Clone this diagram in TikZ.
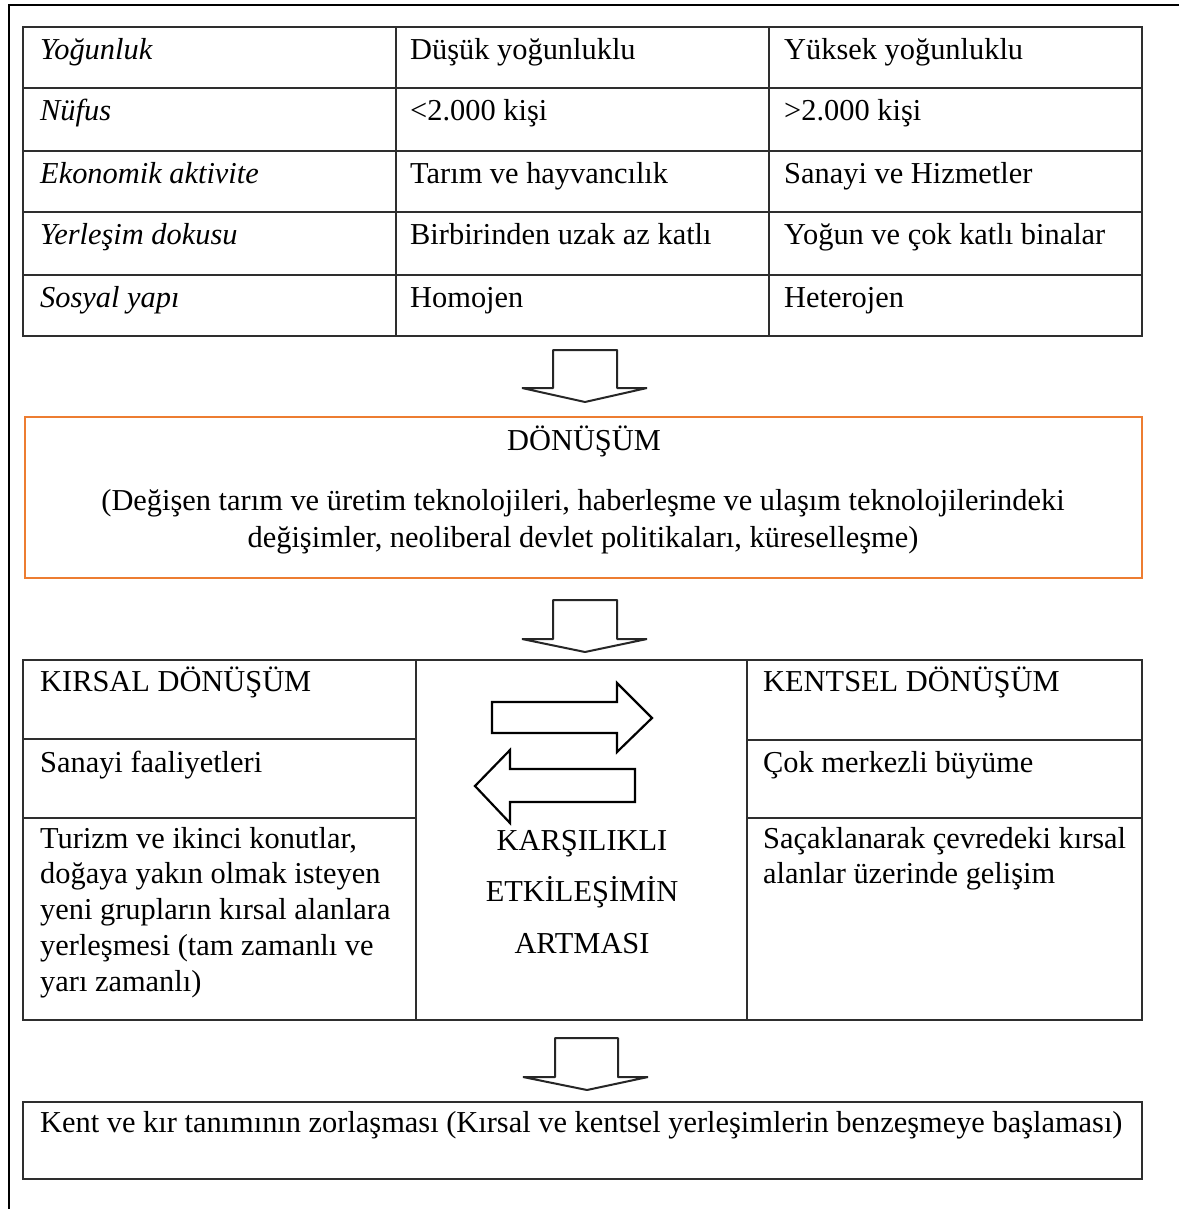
\documentclass[tikz,border=0pt]{standalone}
\usepackage{fontspec}
\setmainfont{Liberation Serif}
\usetikzlibrary{calc}
\definecolor{lineg}{HTML}{2E2E2E}
\definecolor{orng}{HTML}{ED7D31}
\newcommand\MLleft[2]{\vtop{\hsize=#1pt\raggedright\noindent #2}}
\newcommand\MLcent[2]{\vtop{\hsize=#1pt\centering\noindent #2}}
\begin{document}
\begin{tikzpicture}[x=1pt,y=-1pt,
  cell/.style={draw=lineg,line width=1.6pt,anchor=north west,inner sep=0pt,outer sep=0pt},
  txt/.style={anchor=base west,inner sep=0pt,font=\fontsize{30.4}{35.8}\selectfont},
  itxt/.style={txt,font=\fontsize{30.4}{35.8}\selectfont\itshape},
  ctxt/.style={anchor=base,inner sep=0pt,font=\fontsize{30.4}{37}\selectfont},
  bigarrow/.style={draw=black,line width=2.2pt,fill=white,line join=miter},
  downarrow/.style={draw=black!85,line width=2pt,fill=white,line join=bevel}
]
\useasboundingbox (0,0) rectangle (1179,1209);
\fill[white] (0,0) rectangle (1179,1209);
% outer frame (top and left only)
\draw[line width=2pt,black] (1179,5) -- (9,5) -- (9,1209);

% ---- first table
\foreach \r/\y/\h/\a/\b/\c in {
 1/27/61/Yoğunluk/Düşük yoğunluklu/Yüksek yoğunluklu,
 2/88/63/Nüfus/<2.000 kişi/>2.000 kişi,
 3/151/61/Ekonomik aktivite/Tarım ve hayvancılık/Sanayi ve Hizmetler,
 4/212/63/Yerleşim dokusu/Birbirinden uzak az katlı/Yoğun ve çok katlı binalar,
 5/275/61/Sosyal yapı/Homojen/Heterojen}{
  \node[cell,minimum width=373,minimum height=\h] (a\r) at (23,\y) {};
  \node[cell,minimum width=373,minimum height=\h] (b\r) at (396,\y) {};
  \node[cell,minimum width=373,minimum height=\h] (c\r) at (769,\y) {};
  \node[itxt] (a\r-t) at ($(a\r.north west)+(17,32.5)$) {\a};
  \node[txt] (b\r-t) at ($(b\r.north west)+(14,32.5)$) {\b};
  \node[txt] (c\r-t) at ($(c\r.north west)+(15,32.5)$) {\c};
}

% ---- arrow 1
\draw[downarrow] (553,350) -- (617,350) -- (617,388) -- (647,388) -- (585,402) -- (522,388) -- (553,388) -- cycle;

% ---- orange box
\node[draw=orng,line width=2.8pt,anchor=north west,inner sep=0pt,outer sep=0pt,
      minimum width=1117,minimum height=161] (don) at (25,417) {};
\node[ctxt] (don-title) at (584,450) {DÖNÜŞÜM};
\node[ctxt] (don-text) at (583,510) {\MLcent{1120}{(Değişen tarım ve üretim teknolojileri, haberleşme ve ulaşım teknolojilerindeki\\ değişimler, neoliberal devlet politikaları, küreselleşme)}};

% ---- arrow 2
\draw[downarrow] (553,600) -- (617,600) -- (617,639) -- (647,639) -- (585,652) -- (522,639) -- (553,639) -- cycle;

% ---- middle table
\node[cell,minimum width=393,minimum height=79] (k1) at (23,660) {};
\node[cell,minimum width=393,minimum height=79] (k2) at (23,739) {};
\node[cell,minimum width=393,minimum height=202] (k3) at (23,818) {};
\node[cell,minimum width=331,minimum height=360] (m) at (416,660) {};
\node[cell,minimum width=395,minimum height=80] (u1) at (747,660) {};
\node[cell,minimum width=395,minimum height=78] (u2) at (747,740) {};
\node[cell,minimum width=395,minimum height=202] (u3) at (747,818) {};

\node[txt] (k1-t) at (40,691) {KIRSAL DÖNÜŞÜM};
\node[txt] (k2-t) at (40,772) {Sanayi faaliyetleri};
\node[txt] (k3-t) at (40,848) {\MLleft{370}{Turizm ve ikinci konutlar,\\ doğaya yakın olmak isteyen\\ yeni grupların kırsal alanlara\\ yerleşmesi (tam zamanlı ve\\ yarı zamanlı)}};
\node[txt] (u1-t) at (763,691) {KENTSEL DÖNÜŞÜM};
\node[txt] (u2-t) at (763,772) {Çok merkezli büyüme};
\node[txt] (u3-t) at (763,848) {\MLleft{380}{Saçaklanarak çevredeki kırsal\\ alanlar üzerinde gelişim}};

% exchange arrows
\draw[bigarrow] (492,702) -- (617,702) -- (617,683) -- (652,718) -- (617,752) -- (617,733) -- (492,733) -- cycle;
\draw[bigarrow] (635,769) -- (510,769) -- (510,750) -- (475,786) -- (510,823) -- (510,802) -- (635,802) -- cycle;

\node[anchor=base,inner sep=0pt,font=\fontsize{30.4}{51.5}\selectfont] (m-t) at (582,850)
  {\MLcent{320}{KARŞILIKLI\\ ETKİLEŞİMİN\\ ARTMASI}};

% ---- arrow 3
\draw[downarrow] (555,1038) -- (618,1038) -- (618,1077) -- (648,1077) -- (587,1090) -- (523,1077) -- (555,1077) -- cycle;

% ---- bottom box
\node[cell,minimum width=1119,minimum height=77] (son) at (23,1102) {};
\node[txt] (son-t) at (40,1132) {Kent ve kır tanımının zorlaşması (Kırsal ve kentsel yerleşimlerin benzeşmeye başlaması)};
\end{tikzpicture}
\end{document}
